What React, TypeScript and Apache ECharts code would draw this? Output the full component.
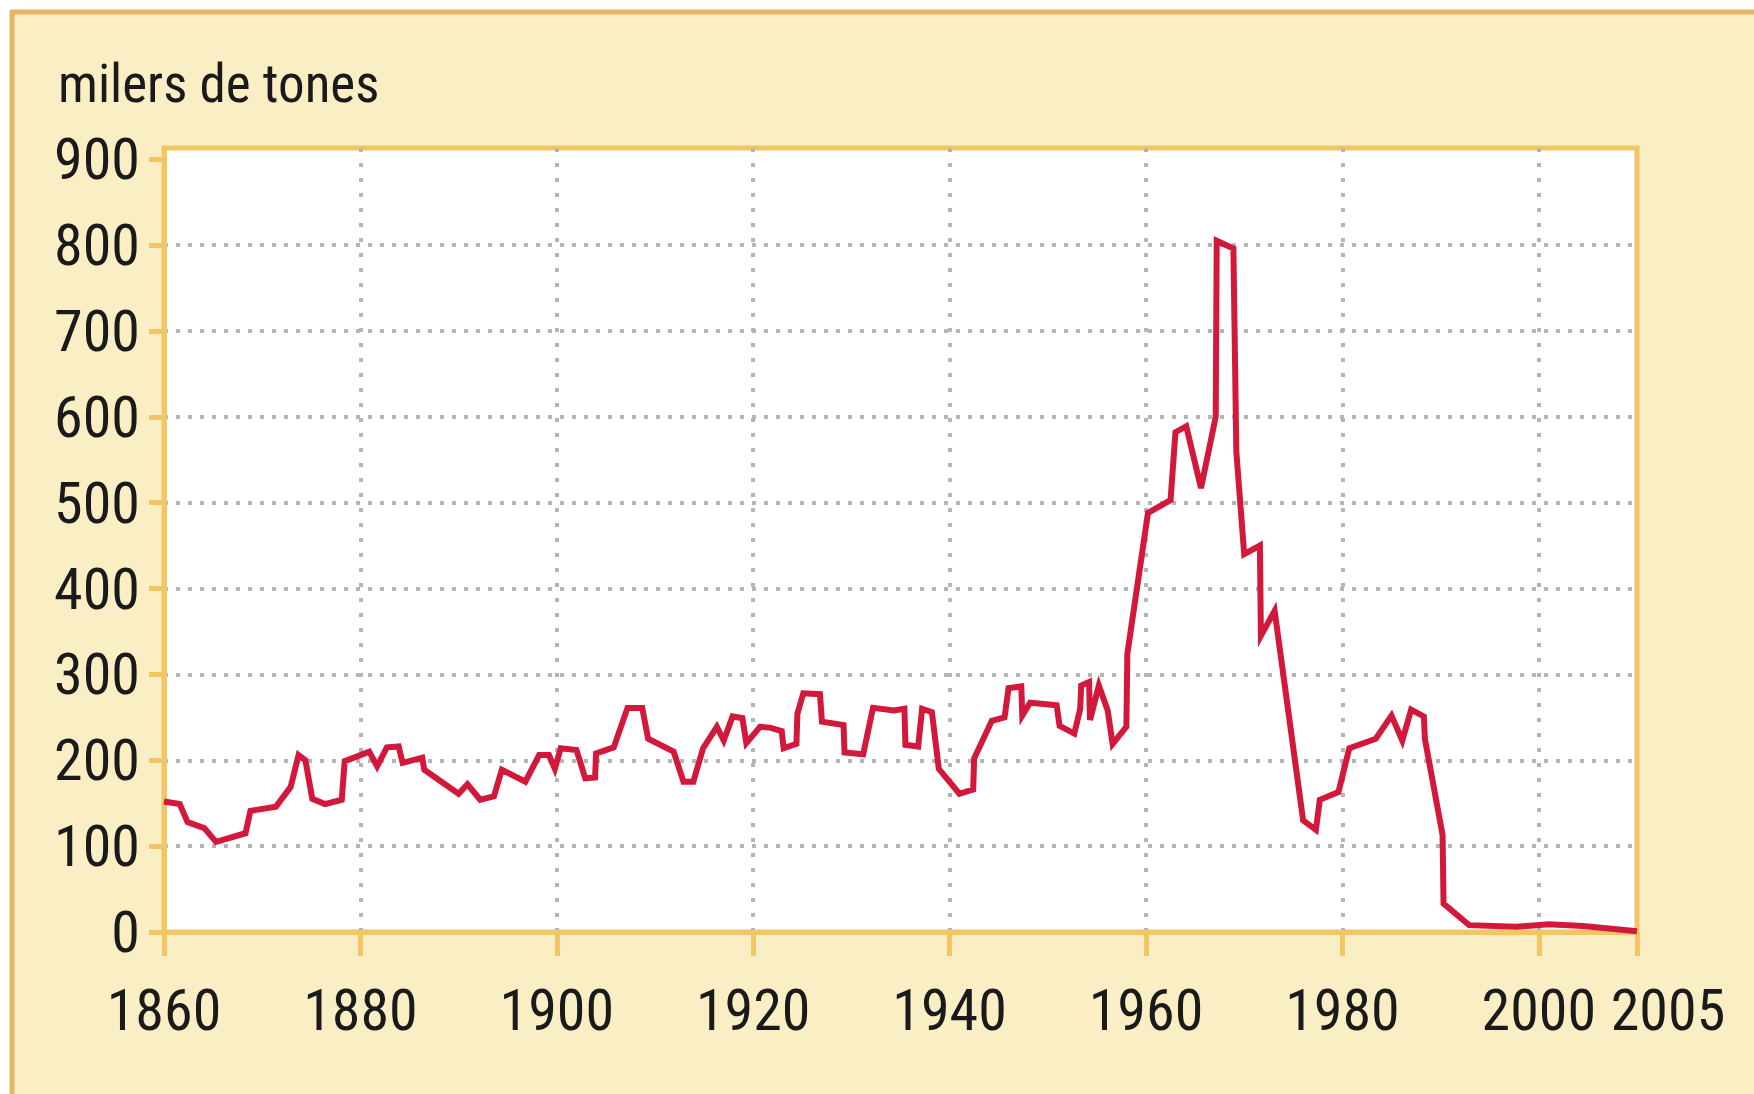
import React, { useEffect, useRef } from "react";
import * as echarts from "echarts";

// Production (milers de tones) — x positions (axis end labelled 2005)
const years: number[] = [
  1860, 1861.6, 1862.4, 1864.1, 1865.3, 1868.3, 1868.8, 1871.4, 1872.9, 1873.7,
  1874.4, 1875.1, 1876.4, 1878.1, 1878.4, 1880, 1880.9, 1881.7, 1882.7, 1883.9,
  1884.3, 1886.3, 1886.5, 1890, 1890.9, 1892.2, 1893.6, 1894.4, 1896.8, 1898.2,
  1899.2, 1899.8, 1900.4, 1902, 1902.9, 1903.9, 1904, 1905.8, 1907.2, 1908.7,
  1909.3, 1911.9, 1912.9, 1913.9, 1914.9, 1916.3, 1917, 1917.9, 1918.9, 1919.3,
  1920.7, 1921.7, 1922.9, 1923.1, 1924.4, 1924.5, 1925.1, 1926.8, 1927, 1929.2,
  1929.3, 1931.2, 1932.2, 1934.3, 1935.4, 1935.5, 1936.8, 1937.2, 1938.2, 1938.9,
  1941, 1942.4, 1942.5, 1944.3, 1945.6, 1946, 1947.3, 1947.4, 1948.2, 1950.9,
  1951.2, 1952.7, 1953.3, 1953.4, 1954.2, 1954.3, 1955.2, 1956.1, 1956.6, 1958,
  1958.1, 1960.2, 1962.5, 1963, 1964.1, 1965.6, 1967.1, 1967.2, 1968.9, 1969.2,
  1970, 1971.6, 1971.7, 1973.1, 1976, 1977.3, 1977.7, 1979.6, 1980.7, 1983.4,
  1985, 1986.1, 1987, 1988.3, 1988.4, 1990.2, 1990.3, 1992.9, 1997.7, 2001,
  2004.5, 2010,
];
const values: number[] = [
  152, 149, 128, 121, 105, 115, 141, 146, 169, 206,
  200, 155, 149, 154, 199, 206, 210, 193, 215, 216,
  197, 203, 189, 161, 172, 154, 158, 189, 175, 206,
  206, 190, 214, 212, 179, 180, 208, 215, 261, 261,
  225, 210, 175, 175, 214, 239, 223, 251, 249, 220,
  239, 238, 234, 214, 219, 254, 278, 277, 245, 241,
  209, 207, 261, 258, 260, 218, 216, 260, 256, 190,
  161, 166, 202, 246, 250, 284, 286, 252, 267, 264,
  240, 231, 260, 287, 291, 247, 287, 258, 219, 239,
  324, 488, 503, 582, 589, 517, 600, 805, 796, 559,
  440, 450, 345, 374, 130, 119, 154, 163, 214, 225,
  252, 223, 259, 251, 225, 113, 33, 8, 6, 9,
  7, 1,
];

const xTicks: number[] = [1860, 1880, 1900, 1920, 1940, 1960, 1980, 2000, 2010];
const xLabelValues: number[] = [1860, 1880, 1900, 1920, 1940, 1960, 1980, 2000];
const endLabel = "2005";
const endValue = 2010;
const yTicks: number[] = [0, 100, 200, 300, 400, 500, 600, 700, 800, 900];
const unitLabel = "milers de tones";

const FONT = "'Roboto Condensed', 'DejaVu Sans Condensed', sans-serif";
const ORANGE = "#F2C565";
const GRIDGRAY = "#b5b5b5";
const TEXT = "#1a1a1a";
const LABEL_SIZE = 58;

export default function App() {
  const ref = useRef<HTMLDivElement>(null);
  useEffect(() => {
    if (!ref.current) return;
    const chart = echarts.init(ref.current, undefined, { renderer: "svg" });
    const data = years.map((y, i) => [y, values[i]]);
    chart.setOption({
      animation: false,
      backgroundColor: "#ffffff",
      graphic: [
        {
          id: "frame",
          type: "rect",
          z: -10,
          shape: { x: 12, y: 12, width: 1760, height: 1100 },
          style: { fill: "#FAEFC4" },
          silent: true,
        },
        {
          type: "line",
          z: -9,
          shape: { x1: 10, y1: 12, x2: 1760, y2: 12 },
          style: { stroke: "#E9B266", lineWidth: 5 },
          silent: true,
        },
        {
          type: "line",
          z: -9,
          shape: { x1: 12, y1: 10, x2: 12, y2: 1100 },
          style: { stroke: "#E9B266", lineWidth: 5 },
          silent: true,
        },
        {
          type: "text",
          x: 58,
          y: 84,
          style: {
            text: unitLabel,
            font: `53px ${FONT}`,
            fill: TEXT,
            textAlign: "left",
            textVerticalAlign: "middle",
          },
        },
      ],
      grid: {
        left: 164,
        right: 117,
        top: 148,
        bottom: 162,
        show: true,
        backgroundColor: "#ffffff",
        borderColor: ORANGE,
        borderWidth: 5,
        containLabel: false,
      },
      xAxis: {
        type: "value",
        min: 1860,
        max: 2010,
        axisLine: { show: true, lineStyle: { color: ORANGE, width: 5 } },
        axisTick: {
          show: true,
          length: 24,
          customValues: xTicks,
          lineStyle: { color: ORANGE, width: 5 },
        },
        axisLabel: {
          customValues: xLabelValues,
          margin: 78,
          verticalAlign: "middle",
          fontFamily: FONT,
          fontSize: LABEL_SIZE,
          color: TEXT,
          formatter: (v: number) => String(v),
        },
        splitLine: {
          show: true,
          showMinLine: false,
          showMaxLine: false,
          lineStyle: { color: GRIDGRAY, width: 4, type: [4, 11] },
        },
      },
      yAxis: {
        type: "value",
        min: 0,
        max: 913,
        axisLine: { show: true, lineStyle: { color: ORANGE, width: 5 } },
        axisTick: {
          show: true,
          length: 15,
          customValues: yTicks,
          lineStyle: { color: ORANGE, width: 5 },
        },
        axisLabel: {
          customValues: yTicks,
          margin: 24,
          fontFamily: FONT,
          fontSize: LABEL_SIZE,
          color: TEXT,
          formatter: (v: number) => String(v),
        },
        splitLine: {
          show: true,
          showMinLine: false,
          showMaxLine: false,
          lineStyle: { color: GRIDGRAY, width: 4, type: [4, 8] },
        },
      },
      series: [
        {
          type: "line",
          data,
          symbol: "none",
          lineStyle: { color: "#D2193B", width: 6, join: "miter", miterLimit: 4 },
          z: 5,
        },
      ],
    });
    // end-of-axis label, placed through the x scale, shifted right as in the original
    const ex = chart.convertToPixel({ xAxisIndex: 0 }, endValue) as number;
    const ey = chart.convertToPixel({ yAxisIndex: 0 }, 0) as number;
    chart.setOption({
      graphic: [
        {
          id: "endLabel",
          type: "text",
          x: ex + 31,
          y: ey + 78,
          style: {
            text: endLabel,
            font: `${LABEL_SIZE}px ${FONT}`,
            fill: TEXT,
            textAlign: "center",
            textVerticalAlign: "middle",
          },
        },
      ],
    });
    return () => chart.dispose();
  }, []);
  return (
    <div
      ref={ref}
      style={{ position: "absolute", left: 0, top: 0, width: 1754, height: 1094 }}
    />
  );
}
